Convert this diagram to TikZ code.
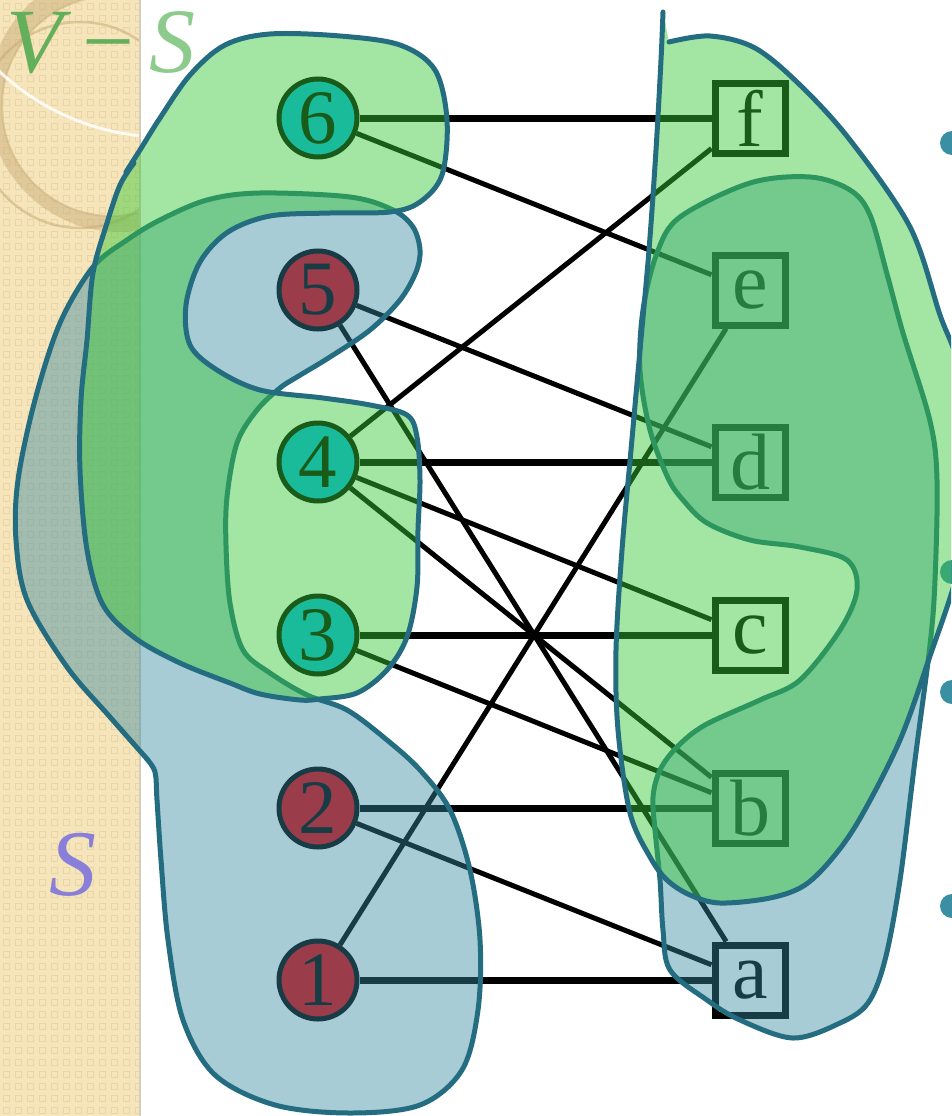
\documentclass[tikz,border=0pt]{standalone}
\usepackage{fontspec}
\setmainfont{Liberation Serif}
\definecolor{strip}{RGB}{246,229,186}
\definecolor{stripdot}{RGB}{234,213,166}
\definecolor{stripedge}{RGB}{214,204,186}
\definecolor{ringtan}{RGB}{196,168,116}
\definecolor{cyannode}{RGB}{0,176,240}
\definecolor{rednode}{RGB}{232,0,8}
\definecolor{setblue}{RGB}{55,138,161}
\definecolor{setgreen}{RGB}{56,200,56}
\definecolor{rim}{RGB}{36,108,128}
\definecolor{bulletc}{RGB}{58,143,163}
\definecolor{vsdark}{RGB}{100,175,92}
\definecolor{vslight}{RGB}{140,203,140}
\definecolor{spurple}{RGB}{137,127,217}
\pgfdeclarelayer{paper}
\pgfdeclarelayer{edges}
\pgfsetlayers{paper,edges,main}
\begin{document}
\begin{tikzpicture}[x=1pt,y=-1pt,
  vert/.style={circle, draw=black, line width=5pt, minimum size=78pt, inner sep=0pt,
    font=\fontsize{77}{77}\selectfont},
  cyanv/.style={vert, fill=cyannode},
  redv/.style={vert, fill=rednode},
  sqv/.style={rectangle, draw=black, line width=7pt, fill=white, minimum size=70pt,
    inner sep=0pt, font=\fontsize{80}{80}\selectfont},
  edge/.style={line width=5pt},
  hedge/.style={line width=7pt},
  setS/.style={fill=setblue, fill opacity=0.435, draw=rim, line width=5pt,
    line join=round, line cap=round},
  setVS/.style={fill=setgreen, fill opacity=0.46, draw=rim, line width=5pt,
    line join=round, line cap=round},
  biglabel/.style={anchor=base, inner sep=0pt, font=\itshape\fontsize{92}{92}\selectfont}]
\useasboundingbox (0,0) rectangle (951,1116);
\clip (0,0) rectangle (951,1116);

\begin{pgfonlayer}{paper}
  \fill[white] (0,0) rectangle (951,1116);
  % textured side strip with ring ornament
  \begin{scope}
    \clip (0,0) rectangle (140,1116);
    \fill[strip] (0,0) rectangle (140,1116);
    \foreach \i in {0,...,11}
      \foreach \j in {0,...,93}
        \draw[stripdot, line width=0.9pt] (\i*12+3,\j*12+3) rectangle ++(6,6);
    \fill[ringtan, opacity=0.45, even odd rule] (120,100) circle (132pt) (112,106) circle (110pt);
    \draw[ringtan, opacity=0.5, line width=2.5pt] (80,125) circle (103pt);
    \draw[ringtan, opacity=0.4, line width=2pt] (112,106) circle (110pt);
    \draw[white, opacity=0.85, line width=3pt] (165,-105) circle (242pt);
  \end{scope}
  \draw[stripedge, line width=2pt] (140,0) -- (140,1116);
  % bullets at the right edge
  \foreach \by in {143,572,692,906}
    \fill[bulletc] (952,\by) circle (12pt);
\end{pgfonlayer}

% left vertices
\node[cyanv] (n6) at (318,118) {6};
\node[redv]  (n5) at (318,290) {5};
\node[cyanv] (n4) at (318,462) {4};
\node[cyanv] (n3) at (318,635) {3};
\node[redv]  (n2) at (318,808) {2};
\node[redv]  (n1) at (318,980) {1};
% right vertices
\node[sqv] (nf) at (750,118) {f};
\node[sqv] (ne) at (750,290) {e};
\node[sqv] (nd) at (750,462) {d};
\node[sqv] (nc) at (750,635) {c};
\node[sqv] (nb) at (750,808) {b};
\node[sqv] (na) at (750,980) {a};

% edges, kept beneath the vertices
\begin{pgfonlayer}{edges}
  \draw[hedge] (n6) -- (nf);
  \draw[hedge] (n4) -- (nd);
  \draw[hedge] (n3) -- (nc);
  \draw[hedge] (n2) -- (nb);
  \draw[hedge] (n1) -- (na);
  \draw[edge] (n6) -- (ne);
  \draw[edge] (n5) -- (nd);
  \draw[edge] (n5) -- (na);
  \draw[edge] (n4) -- (nf);
  \draw[edge] (n4) -- (nc);
  \draw[edge] (n4) -- (nb);
  \draw[edge] (n3) -- (nb);
  \draw[edge] (n2) -- (na);
  \draw[edge] (n1) -- (ne);
\end{pgfonlayer}

% set S (blue)
\draw[setS] plot[smooth, tension=0.55] coordinates {
  (148,760) (110,717) (67,667) (27,600) (16,540) (18,480) (35,400) (60,323)
  (93,267) (127,240) (160,220) (207,200) (260,193) (350,197) (393,210) (413,227)
  (420,250) (416,272) (400,300) (370,330) (330,357) (297,377) (280,388) (257,410)
  (237,443) (227,497) (226,545) (230,603) (243,650) (270,673) (307,695) (347,710)
  (387,740) (420,770) (450,810) (470,870) (480,940) (478,1010) (462,1070) (420,1105)
  (350,1113) (275,1105) (215,1075) (183,1020) (168,940) (161,860) (157,800) (155,772)
  (146,758)};
\draw[setS] plot[smooth cycle, tension=0.55] coordinates {
  (680,217) (750,183) (810,177) (850,190) (870,215) (887,274) (903,333) (930,421)
  (937,480) (935,580) (930,645) (915,760) (900,880) (885,960) (868,1003) (840,1023)
  (793,1038) (740,1020) (707,1000) (670,970) (663,930) (660,880) (655,830) (653,797)
  (660,770) (677,747) (705,725) (760,700) (800,680) (840,630) (857,590) (847,560)
  (800,547) (750,540) (707,523) (683,500) (668,478) (650,430) (640,370) (643,310)
  (657,253)};

% set V - S (green)
\draw[setVS] plot[smooth, tension=0.55] coordinates {
  (126,172) (140,150) (160,118) (190,75) (225,45) (270,34) (340,36) (400,45)
  (435,70) (447,120) (442,175) (420,202) (390,212) (330,213) (270,216) (228,232)
  (200,262) (186,305) (190,345) (217,370) (260,390) (323,398) (370,405) (407,415)
  (417,437) (420,480) (418,530) (417,587) (407,637) (387,670) (357,693) (320,699)
  (300,700) (260,694) (230,683) (180,663) (135,638) (103,605) (87,550) (80,470)
  (81,400) (87,340) (93,273) (107,223) (120,185) (134,163)};
\draw[setVS] plot[smooth, tension=0.55] coordinates {
  (663,12) (661,60) (656,150) (649,250) (640,350) (631,450) (622,550) (616,650)
  (618,730) (630,813) (650,857) (667,880) (690,895) (720,903) (770,898) (805,885)
  (835,855) (862,815) (900,740) (930,656) (958,570) (975,470) (958,365) (940,315)
  (910,227) (850,140) (800,85) (755,48) (710,36) (669,42)};

% set labels
\node[biglabel, text=vsdark] (lv) at (35,73) {V};
\node[biglabel, text=vsdark, font=\fontsize{92}{92}\selectfont] (lminus) at (108,73) {−};
\node[biglabel, text=vslight] (ls) at (172,73) {S};
\node[biglabel, text=spurple, font=\itshape\fontsize{94}{94}\selectfont] (lsset) at (73,895) {S};
\end{tikzpicture}
\end{document}
